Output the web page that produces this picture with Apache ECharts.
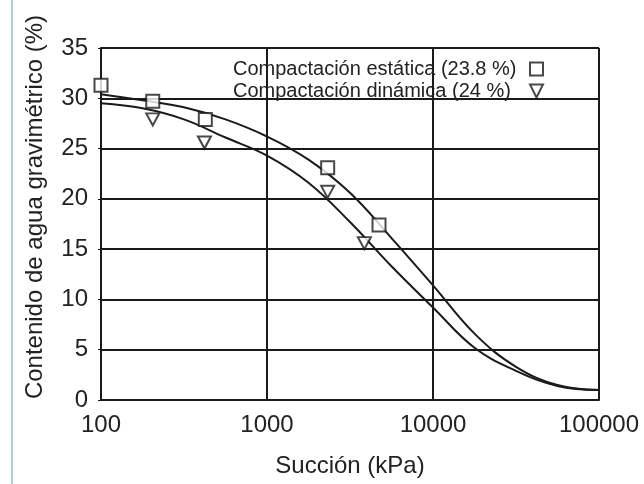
<!DOCTYPE html>
<html>
<head>
<meta charset="utf-8">
<script src="https://cdn.jsdelivr.net/npm/echarts@6/dist/echarts.min.js"></script>
<style>html,body{margin:0;padding:0;background:#fff}#c{width:644px;height:484px}</style>
</head>
<body>
<div id="c"></div>
<script>
// Measured points
const staticSuction = [100, 205, 425, 2320, 4730];
const staticWater   = [31.3, 29.7, 27.9, 23.1, 17.4];
const dynamicSuction = [205, 420, 2320, 3860];
const dynamicWater   = [27.9, 25.6, 20.7, 15.6];
// Fitted curves
const curveSuction = [100, 178, 316, 562, 1000, 1778, 3162, 5623, 10000, 17783, 31623, 56234, 100000];
const staticCurveWater  = [30.4, 29.8, 29.1, 27.9, 26.2, 23.9, 20.6, 16.1, 11.4, 6.6, 3.3, 1.5, 1.0];
const dynamicCurveWater = [29.5, 29.0, 27.9, 26.1, 24.3, 21.6, 17.7, 13.3, 9.2, 5.2, 2.9, 1.4, 1.0];
const xTicks = [100, 1000, 10000, 100000];
const yTicks = [0, 5, 10, 15, 20, 25, 30, 35];
const legendNames = ['Compactación estática (23.8 %)', 'Compactación dinámica (24 %)'];

const zip = (a, b) => a.map((v, i) => [v, b[i]]);
const font = 'Liberation Sans, Arial, sans-serif';
const ink = '#1a1a1a';
const chart = echarts.init(document.getElementById('c'));
chart.setOption({
  animation: false,
  backgroundColor: '#fff',
  grid: {left: 101, top: 48, right: 45, bottom: 84, show: false},
  legend: {
    orient: 'vertical', right: 95, top: 54, align: 'right', itemGap: 2,
    itemWidth: 13, itemHeight: 13,
    data: [{name: legendNames[0], icon: 'rect'},
           {name: legendNames[1], icon: 'path://M0,0 L12,0 L6,12 Z'}],
    formatter: name => '{t|' + name + '}',
    textStyle: {fontFamily: font, fontSize: 20, color: '#222',
      rich: {t: {fontFamily: font, fontSize: 20, color: '#222', width: 292, align: 'left'}}}
  },
  graphic: [{type: 'line', shape: {x1: 12, y1: 0, x2: 12, y2: 484}, style: {stroke: '#a8d4d6', lineWidth: 2}}],
  xAxis: {
    type: 'log', logBase: 10, min: xTicks[0], max: xTicks[xTicks.length - 1],
    name: 'Succión (kPa)', nameLocation: 'middle', nameGap: 54,
    nameTextStyle: {fontFamily: font, fontSize: 24, color: '#222'},
    axisLine: {show: true, onZero: false, lineStyle: {color: ink, width: 2}},
    axisTick: {show: false},
    minorTick: {show: false},
    axisLabel: {fontFamily: font, fontSize: 24, color: '#222', margin: 13,
      formatter: v => String(Math.round(v))},
    splitLine: {show: true, lineStyle: {color: ink, width: 2}}
  },
  yAxis: {
    type: 'value', min: yTicks[0], max: yTicks[yTicks.length - 1], interval: 5,
    name: 'Contenido de agua gravimétrico (%)', nameLocation: 'middle', nameGap: 54,
    nameTextStyle: {fontFamily: font, fontSize: 24, color: '#222', padding: [0, 0, 0, 34]},
    axisLine: {show: true, lineStyle: {color: ink, width: 2}},
    axisTick: {show: true, length: 3, lineStyle: {color: ink, width: 1}},
    axisLabel: {fontFamily: font, fontSize: 24, color: '#222', margin: 13},
    splitLine: {show: true, lineStyle: {color: ink, width: 2}}
  },
  series: [
    {type: 'line', data: zip(curveSuction, staticCurveWater), smooth: 0.4, showSymbol: false,
      lineStyle: {color: ink, width: 2}, z: 3, silent: true},
    {type: 'line', data: zip(curveSuction, dynamicCurveWater), smooth: 0.4, showSymbol: false,
      lineStyle: {color: ink, width: 2}, z: 3, silent: true},
    {name: legendNames[0], type: 'scatter', data: zip(staticSuction, staticWater), symbol: 'rect', symbolSize: 13,
      itemStyle: {color: '#fff', borderColor: ink, borderWidth: 2}, z: 5},
    {name: legendNames[1], type: 'scatter', data: zip(dynamicSuction, dynamicWater), symbol: 'triangle', symbolRotate: 180, symbolSize: [13, 12],
      itemStyle: {color: '#fff', borderColor: ink, borderWidth: 2}, z: 5},
    {type: 'line', data: [[100000, 0], [100000, 35]], showSymbol: false, lineStyle: {color: ink, width: 2}, silent: true},
    {type: 'line', data: [[100, 35], [100000, 35]], showSymbol: false, lineStyle: {color: ink, width: 2}, silent: true}
  ]
});
</script>
</body>
</html>
